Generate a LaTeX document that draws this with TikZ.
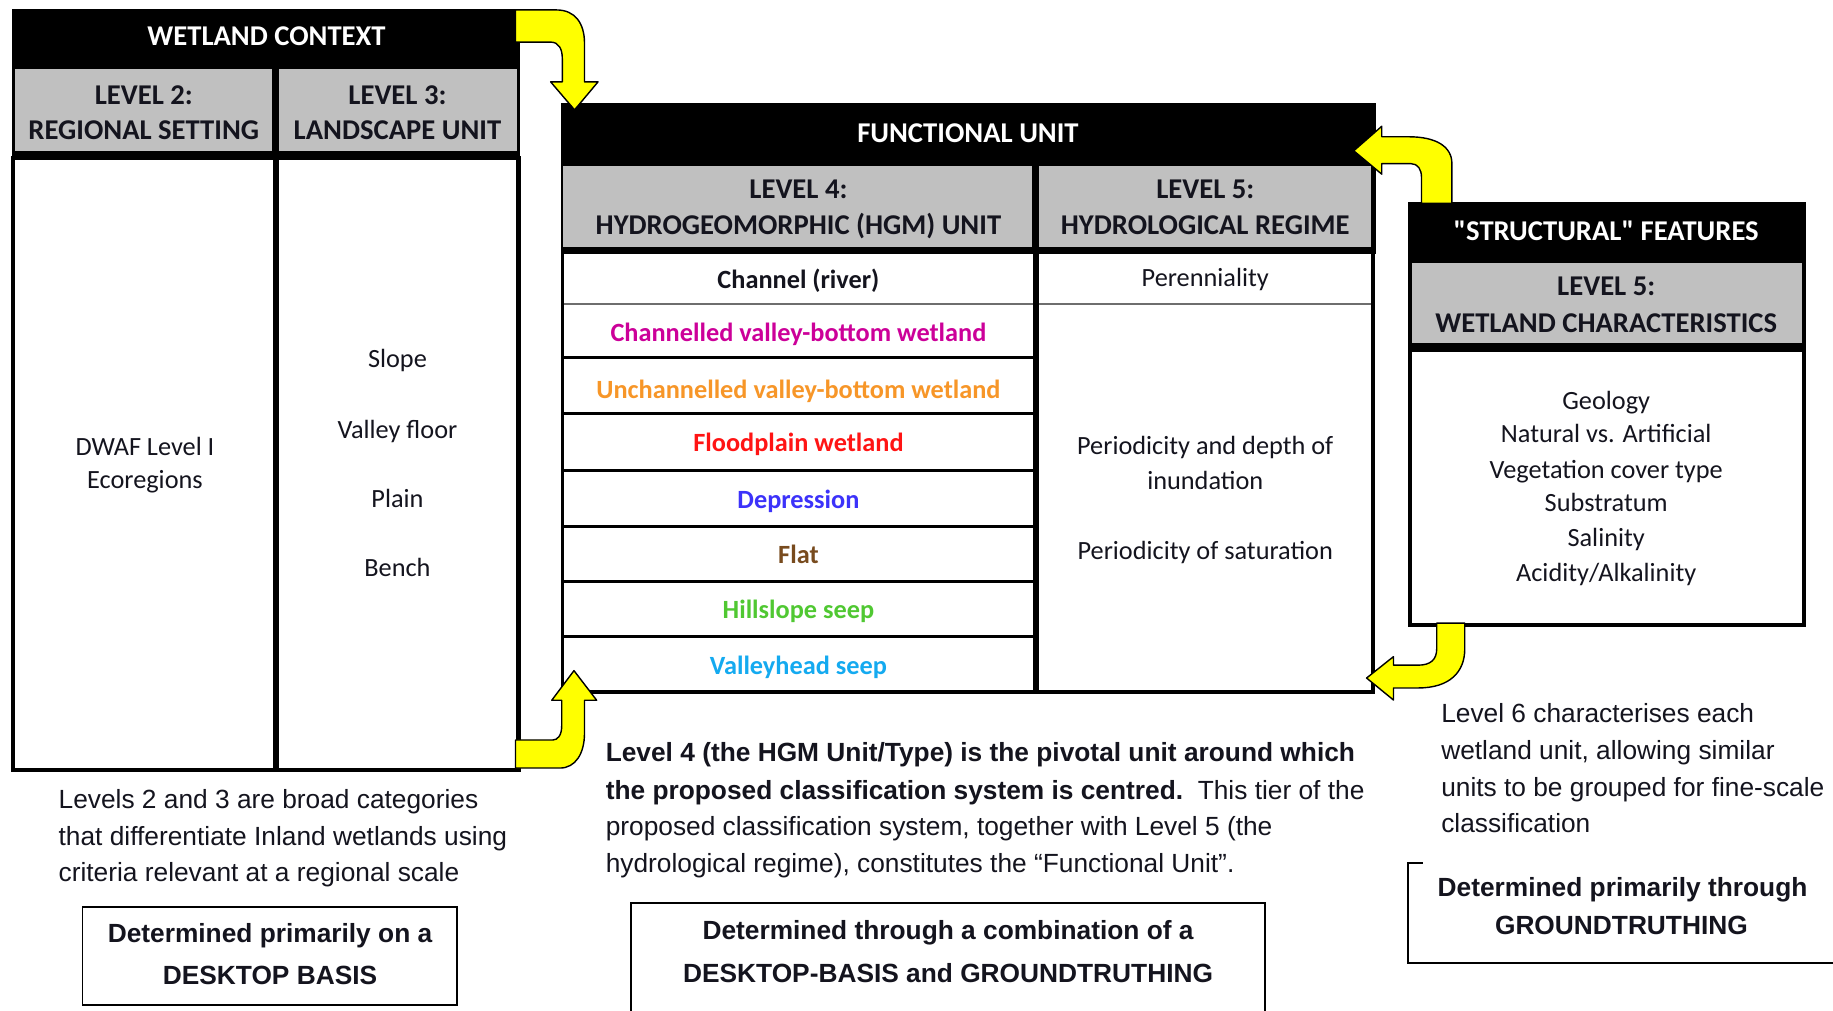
\documentclass[tikz,border=0pt]{standalone}
\usepackage{fontspec}
\setmainfont{Carlito}
\newfontfamily\calnq{Carlito}[Ligatures=TeXOff]
\newfontfamily\arialf{Liberation Sans}
\definecolor{hdrgray}{RGB}{192,192,192}
\definecolor{ylw}{RGB}{255,255,0}
\definecolor{cmag}{RGB}{204,0,153}
\definecolor{corange}{RGB}{247,150,40}
\definecolor{cred}{RGB}{255,20,20}
\definecolor{cblue}{RGB}{60,50,250}
\definecolor{cbrown}{RGB}{120,75,30}
\definecolor{cgreen}{RGB}{80,200,50}
\definecolor{ccyan}{RGB}{20,170,240}
\definecolor{txt}{RGB}{20,20,30}
\definecolor{thinline}{RGB}{110,110,110}
\tikzset{
  cal/.style={font=\fontsize{22.5}{27}\selectfont, inner sep=0pt, anchor=base, text=txt},
  calb/.style={cal, font=\fontsize{22.5}{27}\selectfont\bfseries},
  hdr/.style={font=\fontsize{24.5}{28}\selectfont\bfseries, inner sep=0pt, anchor=base, text=txt},
  whdr/.style={hdr, text=white},
  ar/.style={font=\arialf\fontsize{22.5}{27}\selectfont, inner sep=0pt, anchor=base west, text=txt},
  arbc/.style={font=\arialf\fontsize{22.5}{27}\selectfont\bfseries, inner sep=0pt, anchor=base, text=txt},
  yarrow/.style={fill=ylw, draw=black, line width=1.2pt, line join=round},
  boxline/.style={draw=black, line width=3.5pt},
  rowline/.style={draw=black, line width=2.5pt},
  note/.style={draw=black, line width=1.5pt}
}
\begin{document}
\begin{tikzpicture}[x=1pt,y=-1pt]
\useasboundingbox[fill=white] (0,0) rectangle (1568,864);

% ---------------- WETLAND CONTEXT ----------------
\fill[black] (10,8) rectangle (445,137);
\fill[hdrgray] (12.5,59) rectangle (233,129);
\fill[hdrgray] (239,59) rectangle (442,129);
\draw[boxline] (11.5,135) rectangle (443.5,659);
\draw[black, line width=5pt] (236,130) -- (236,659);
\node[whdr] (wc) at (228,38.7) {WETLAND CONTEXT};
\node[hdr] (l2a) at (123,89.7) {LEVEL 2:};
\node[hdr] (l2b) at (123,119.7) {REGIONAL SETTING};
\node[hdr] (l3a) at (340,89.7) {LEVEL 3:};
\node[hdr] (l3b) at (340,119.7) {LANDSCAPE UNIT};
\node[cal] (dw1) at (124,389.3) {DWAF Level I};
\node[cal] (dw2) at (124,418.3) {Ecoregions};
\node[cal] (ls1) at (340,314.3) {Slope};
\node[cal] (ls2) at (340,375.3) {Valley floor};
\node[cal] (ls3) at (340,434.3) {Plain};
\node[cal] (ls4) at (340,493.3) {Bench};

% ---------------- FUNCTIONAL UNIT ----------------
\fill[black] (480,88) rectangle (1177,217);
\fill[hdrgray] (482,142) rectangle (883,211);
\fill[hdrgray] (889,142) rectangle (1173,211);
\draw[thinline, line width=1.3pt] (481,260) -- (1174,260);
\foreach \yy in {306,354,402.8,450,497.3,544.6}{
  \draw[rowline] (481,\yy) -- (885,\yy);
}
\draw[black, line width=3pt] (481,214) -- (481,592);
\draw[black, line width=5pt] (886,211) -- (886,594);
\draw[black, line width=3.5pt] (1174.5,88) -- (1174.5,594);
\draw[black, line width=3pt] (479.5,592) -- (1176,592);
\node[whdr] (fu) at (828,121.7) {FUNCTIONAL UNIT};
\node[hdr] (l4a) at (683,169.7) {LEVEL 4:};
\node[hdr] (l4b) at (683,200.7) {HYDROGEOMORPHIC (HGM) UNIT};
\node[hdr] (l5a) at (1031,169.7) {LEVEL 5:};
\node[hdr] (l5b) at (1031,200.7) {HYDROLOGICAL REGIME};
\node[calb] (r1) at (683,246.6) {Channel (river)};
\node[calb, text=cmag] (r2) at (683,292) {Channelled valley-bottom wetland};
\node[calb, text=corange] (r3) at (683,340.5) {Unchannelled valley-bottom wetland};
\node[calb, text=cred] (r4) at (683,386.2) {Floodplain wetland};
\node[calb, text=cblue] (r5) at (683,434.7) {Depression};
\node[calb, text=cbrown] (r6) at (683,482.3) {Flat};
\node[calb, text=cgreen] (r7) at (683,528.8) {Hillslope seep};
\node[calb, text=ccyan] (r8) at (683,577.3) {Valleyhead seep};
\node[cal] (h1) at (1031,245) {Perenniality};
\node[cal] (h2) at (1031,389) {Periodicity and depth of};
\node[cal] (h3) at (1031,419) {inundation};
\node[cal] (h4) at (1031,478.6) {Periodicity of saturation};

% ---------------- STRUCTURAL FEATURES ----------------
\fill[black] (1204.6,172.5) rectangle (1544.6,301);
\fill[hdrgray] (1207.6,224.7) rectangle (1541.6,293);
\draw[boxline] (1206.3,299) rectangle (1543,534.5);
\node[whdr, font=\calnq\fontsize{24.5}{28}\selectfont\bfseries] (sf) at (1374,205.7) {"STRUCTURAL" FEATURES};
\node[hdr] (l6a) at (1374,252.7) {LEVEL 5:};
\node[hdr] (l6b) at (1374,284.7) {WETLAND CHARACTERISTICS};
\node[cal] (s1) at (1374,350.3) {Geology};
\node[cal] (s2) at (1374,378.8) {Natural vs. Artificial};
\node[cal] (s3) at (1374,409.3) {Vegetation cover type};
\node[cal] (s4) at (1374,437.9) {Substratum};
\node[cal] (s5) at (1374,467.8) {Salinity};
\node[cal] (s6) at (1374,497.3) {Acidity/Alkalinity};

% ---------------- YELLOW ARROWS ----------------
% top-left: wetland context -> functional unit
\draw[yarrow] (441,8.5) -- (476,8.5) .. controls (492,8.5) and (500,20) .. (500,37)
  -- (500,70) -- (511.6,70) -- (491.5,94) -- (471,70) -- (481,70) -- (481,50)
  .. controls (481,42) and (478,36) .. (471,36) -- (441,36) -- cycle;
% bottom-left
\draw[yarrow] (441,657) -- (479,657) .. controls (492,657) and (500,645) .. (500,627)
  -- (500,599) -- (510.4,599) -- (491,573.7) -- (472,599) -- (480.5,599) -- (480.5,621)
  .. controls (480.5,629) and (477,633) .. (473,633) -- (441,633) -- cycle;
% top-right: structural features -> functional unit
\draw[yarrow] (1242,174) -- (1242,140) .. controls (1242,125) and (1228,117) .. (1205,117)
  -- (1182,117) -- (1182,108) -- (1158,129) -- (1182,149) -- (1182,140) -- (1207,140)
  .. controls (1213,140) and (1216,145) .. (1216,152) -- (1216,174) -- cycle;
% bottom-right
\draw[yarrow] (1229,533) -- (1229,555) .. controls (1229,564) and (1224,569) .. (1213,569)
  -- (1192,569) -- (1192,561.7) -- (1169,580) -- (1192,598.8) -- (1192,588.5) -- (1213,588.5)
  .. controls (1240,588.5) and (1253,575) .. (1253,555) -- (1253,533) -- cycle;

% ---------------- NOTES ----------------
\node[ar] (n1a) at (50,691.5) {Levels 2 and 3 are broad categories};
\node[ar] (n1b) at (50,723) {that differentiate Inland wetlands using};
\node[ar] (n1c) at (50,754) {criteria relevant at a regional scale};
\draw[note] (70.6,775.6) rectangle (391,859.7);
\node[arbc] (b1a) at (231,806) {Determined primarily on a};
\node[arbc] (b1b) at (231,842) {DESKTOP BASIS};

\node[ar, font=\arialf\fontsize{22.5}{27}\selectfont\bfseries] (n2a) at (518,651) {Level 4 (the HGM Unit/Type) is the pivotal unit around which};
\node[ar] (n2b) at (518,684) {\textbf{the proposed classification system is centred.}\ \ This tier of the};
\node[ar] (n2c) at (518,714.6) {proposed classification system, together with Level 5 (the};
\node[ar] (n2d) at (518,746.5) {hydrological regime), constitutes the “Functional Unit”.};
\draw[note] (539.8,866) -- (539.8,772.6) -- (1081.8,772.6) -- (1081.8,866);
\node[arbc] (b2a) at (811,804) {Determined through a combination of a};
\node[arbc] (b2b) at (811,840.5) {DESKTOP-BASIS and GROUNDTRUTHING};

\node[ar] (n3a) at (1232.7,618) {Level 6 characterises each};
\node[ar] (n3b) at (1232.7,649.6) {wetland unit, allowing similar};
\node[ar] (n3c) at (1232.7,681.5) {units to be grouped for fine-scale};
\node[ar] (n3d) at (1232.7,712.3) {classification};
\draw[note] (1217,738) -- (1204.7,738) -- (1204.7,824) -- (1570,824);
\node[arbc] (b3a) at (1388,767) {Determined primarily through};
\node[arbc] (b3b) at (1387,799) {GROUNDTRUTHING};
\end{tikzpicture}
\end{document}
